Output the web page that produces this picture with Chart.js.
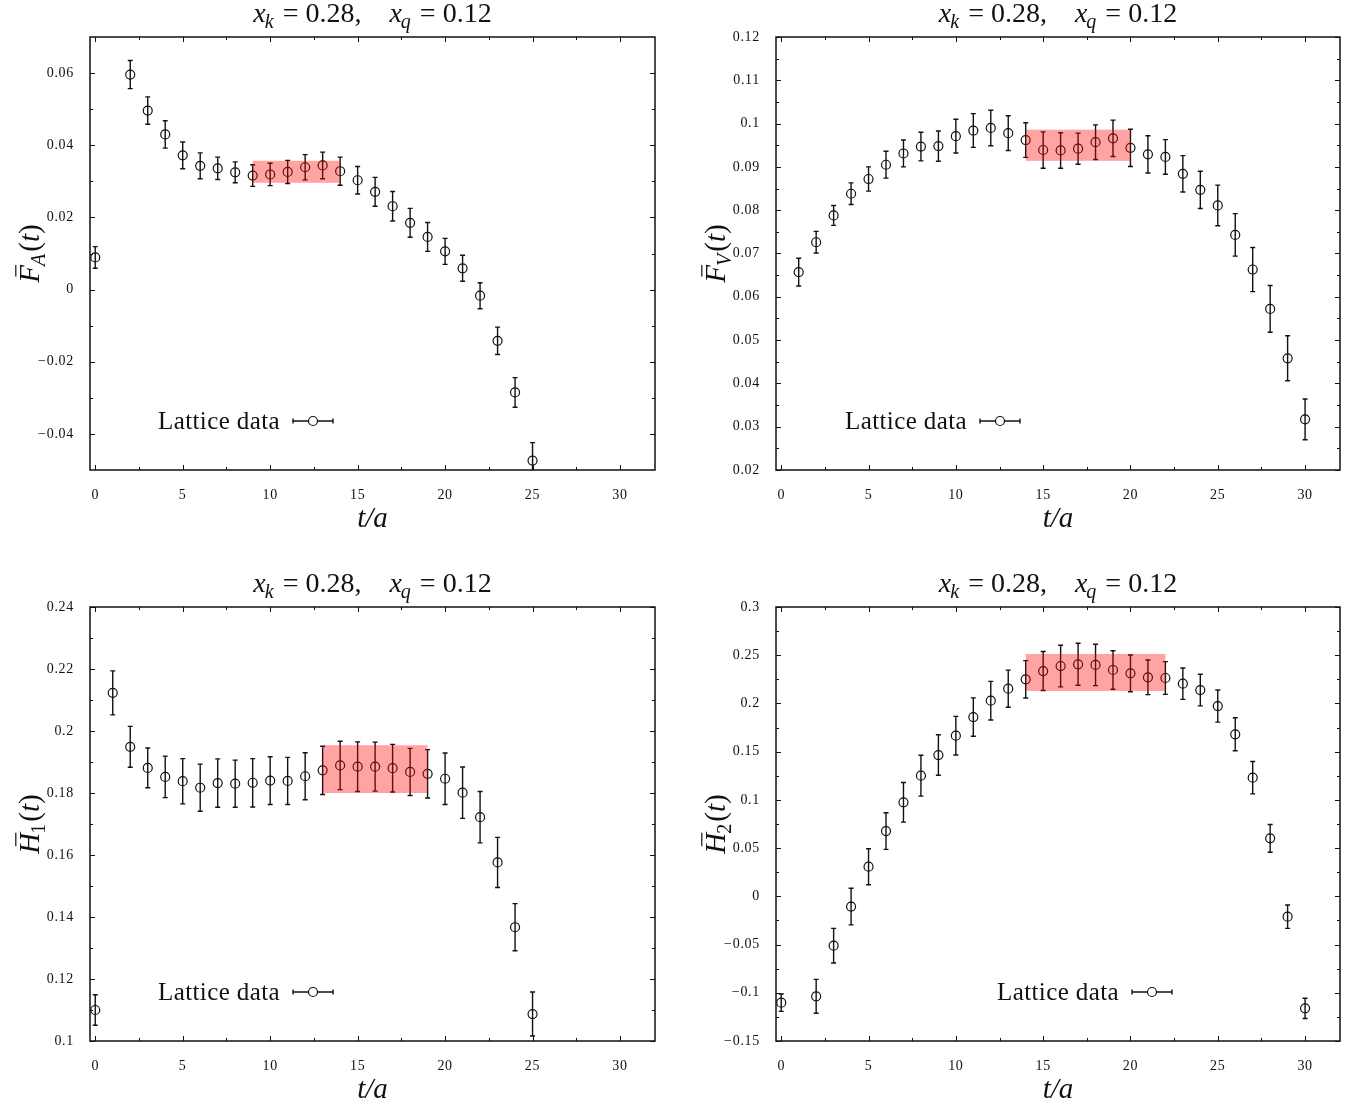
<!DOCTYPE html>
<html>
<head>
<meta charset="utf-8">
<script src="https://cdn.jsdelivr.net/npm/chart.js@4.4.1/dist/chart.umd.min.js"></script>
<style>
  html, body { margin: 0; padding: 0; background: #fff; overflow: hidden; }
  #wrap { position: relative; width: 1364px; height: 1110px; }
  .panel { position: absolute; width: 682px; height: 555px; }
  canvas { display: block; }
</style>
</head>
<body>
<div id="wrap">
  <div class="panel" style="left:0;top:0"><canvas id="cFA" width="682" height="555"></canvas></div>
  <div class="panel" style="left:682px;top:0"><canvas id="cFV" width="682" height="555"></canvas></div>
  <div class="panel" style="left:0;top:555px"><canvas id="cH1" width="682" height="555"></canvas></div>
  <div class="panel" style="left:682px;top:555px"><canvas id="cH2" width="682" height="555"></canvas></div>
</div>
<script>
// ---- data ----
const tFA = [0, 2, 3, 4, 5, 6, 7, 8, 9, 10, 11, 12, 13, 14, 15, 16, 17, 18, 19, 20, 21, 22, 23, 24, 25];
const fA = [0.0089, 0.0596, 0.0496, 0.0430, 0.0372, 0.0343, 0.0336, 0.0325, 0.0316, 0.0319, 0.0326, 0.0339, 0.0344,
            0.0328, 0.0303, 0.0271, 0.0231, 0.0185, 0.0146, 0.0106, 0.0059, -0.0017, -0.0142, -0.0285, -0.0474];
const fAErr = [0.0030, 0.0039, 0.0038, 0.0038, 0.0037, 0.0036, 0.0031, 0.0029, 0.0030, 0.0031, 0.0032, 0.0035, 0.0037,
               0.0039, 0.0038, 0.0040, 0.0041, 0.0040, 0.0040, 0.0036, 0.0036, 0.0036, 0.0038, 0.0041, 0.0050];
const bandFA_t = [9, 14];
const bandFA_y = [0.0296, 0.0357];
const yTicksFA = [-0.04, -0.02, 0, 0.02, 0.04, 0.06];

const tFV = [1, 2, 3, 4, 5, 6, 7, 8, 9, 10, 11, 12, 13, 14, 15, 16, 17, 18, 19, 20, 21, 22, 23, 24, 25, 26, 27, 28, 29, 30];
const fV = [0.0657, 0.0726, 0.0788, 0.0838, 0.0872, 0.0905, 0.0931, 0.0947, 0.0948, 0.0971, 0.0984, 0.0990, 0.0978, 0.0962, 0.0939,
            0.0938, 0.0942, 0.0957, 0.0966, 0.0944, 0.0929, 0.0923, 0.0884, 0.0847, 0.0811, 0.0743, 0.0663, 0.0572, 0.0458, 0.0317];
const fVErr = [0.0032, 0.0025, 0.0023, 0.0025, 0.0028, 0.0031, 0.0031, 0.0033, 0.0035, 0.0039, 0.0039, 0.0041, 0.0040, 0.0040, 0.0042,
               0.0041, 0.0036, 0.0040, 0.0042, 0.0043, 0.0043, 0.0040, 0.0042, 0.0043, 0.0047, 0.0049, 0.0051, 0.0054, 0.0052, 0.0047];
const bandFV_t = [14, 20];
const bandFV_y = [0.0914, 0.0986];
const yTicksFV = [0.02, 0.03, 0.04, 0.05, 0.06, 0.07, 0.08, 0.09, 0.1, 0.11, 0.12];

const tH1 = [0, 1, 2, 3, 4, 5, 6, 7, 8, 9, 10, 11, 12, 13, 14, 15, 16, 17, 18, 19, 20, 21, 22, 23, 24, 25];
const h1 = [0.1100, 0.2123, 0.1949, 0.1881, 0.1852, 0.1838, 0.1817, 0.1832, 0.1830, 0.1833, 0.1840, 0.1839, 0.1854,
            0.1873, 0.1889, 0.1885, 0.1885, 0.1880, 0.1868, 0.1862, 0.1846, 0.1801, 0.1722, 0.1576, 0.1367, 0.1087];
const h1Err = [0.0049, 0.0071, 0.0066, 0.0064, 0.0067, 0.0073, 0.0076, 0.0078, 0.0076, 0.0078, 0.0077, 0.0076, 0.0076,
               0.0078, 0.0078, 0.0080, 0.0079, 0.0077, 0.0076, 0.0078, 0.0083, 0.0083, 0.0083, 0.0081, 0.0076, 0.0071];
const bandH1_t = [13, 19];
const bandH1_y = [0.1800, 0.1954];
const yTicksH1 = [0.1, 0.12, 0.14, 0.16, 0.18, 0.2, 0.22, 0.24];

const tH2 = [0, 2, 3, 4, 5, 6, 7, 8, 9, 10, 11, 12, 13, 14, 15, 16, 17, 18, 19, 20, 21, 22, 23, 24, 25, 26, 27, 28, 29, 30];
const h2 = [-0.1103, -0.1037, -0.0512, -0.0106, 0.0307, 0.0677, 0.0975, 0.1251, 0.1465, 0.1666, 0.1859, 0.2029, 0.2153, 0.2250, 0.2336,
            0.2388, 0.2406, 0.2399, 0.2347, 0.2312, 0.2271, 0.2264, 0.2205, 0.2139, 0.1973, 0.1680, 0.1230, 0.0601, -0.0211, -0.1161];
const h2Err = [0.0090, 0.0176, 0.0180, 0.0190, 0.0187, 0.0190, 0.0206, 0.0212, 0.0210, 0.0200, 0.0199, 0.0200, 0.0192, 0.0194, 0.0202,
               0.0216, 0.0218, 0.0214, 0.0200, 0.0190, 0.0180, 0.0170, 0.0163, 0.0164, 0.0167, 0.0171, 0.0168, 0.0144, 0.0121, 0.0105];
const bandH2_t = [14, 22];
const bandH2_y = [0.2129, 0.2513];
const yTicksH2 = [-0.15, -0.1, -0.05, 0, 0.05, 0.1, 0.15, 0.2, 0.25, 0.3];

const xTickLabels = [0, 5, 10, 15, 20, 25, 30];
const titleText = { xk: '0.28', xq: '0.12' };
const legendText = 'Lattice data';

const SERIF = '"Liberation Serif", "DejaVu Serif", serif';
const INK = '#111';

// small "math" writer: parts are [text, style]
// style: r roman, i italic, bi italic with bar, si italic subscript, sr roman subscript, sp blank space (em)
function fontFor(st, size) {
  const sub = st === 'si' || st === 'sr';
  const it = st === 'i' || st === 'bi' || st === 'si';
  return (it ? 'italic ' : '') + (sub ? Math.round(size * 0.7) : size) + 'px ' + SERIF;
}
function mathWidth(ctx, parts, size) {
  let w = 0;
  parts.forEach(([txt, st]) => {
    if (st === 'sp') { w += txt * size; return; }
    ctx.font = fontFor(st, size);
    w += ctx.measureText(txt).width + (st === 'si' || st === 'sr' ? 1 : 0);
  });
  return w;
}
function drawMath(ctx, parts, cx, baseY, size) {
  let x = cx - mathWidth(ctx, parts, size) / 2;
  ctx.fillStyle = INK;
  ctx.textAlign = 'left';
  ctx.textBaseline = 'alphabetic';
  parts.forEach(([txt, st]) => {
    if (st === 'sp') { x += txt * size; return; }
    ctx.font = fontFor(st, size);
    const w = ctx.measureText(txt).width;
    if (st === 'si' || st === 'sr') {
      ctx.fillText(txt, x - 1, baseY + size * 0.22);
      x += w + 1;
      return;
    }
    ctx.fillText(txt, x, baseY);
    if (st === 'bi') {
      ctx.strokeStyle = INK;
      ctx.lineWidth = 1.2;
      ctx.beginPath();
      ctx.moveTo(x + w * 0.35, baseY - size * 0.8);
      ctx.lineTo(x + w * 1.0, baseY - size * 0.8);
      ctx.stroke();
    }
    x += w;
  });
}

function fmt(v) {
  const s = String(parseFloat(v.toFixed(4)));
  return s.replace('-', '\u2212');
}

function makePanel(spec) {
  const plugin = {
    id: 'panelDeco',
    beforeDraw(chart) {
      chart.ctx.letterSpacing = '0.7px';
    },
    beforeDatasetsDraw(chart) {
      const ctx = chart.ctx, xs = chart.scales.x, ys = chart.scales.y, a = chart.chartArea;
      ctx.letterSpacing = '0px';
      ctx.save();
      ctx.beginPath();
      ctx.rect(a.left, a.top, a.right - a.left, a.bottom - a.top);
      ctx.clip();
      ctx.strokeStyle = INK;
      ctx.lineWidth = 1.4;
      spec.t.forEach((t, i) => {
        const px = xs.getPixelForValue(t);
        const y1 = ys.getPixelForValue(spec.v[i] - spec.e[i]);
        const y2 = ys.getPixelForValue(spec.v[i] + spec.e[i]);
        ctx.beginPath();
        ctx.moveTo(px, y1); ctx.lineTo(px, y2);
        ctx.moveTo(px - 2.5, y1); ctx.lineTo(px + 2.5, y1);
        ctx.moveTo(px - 2.5, y2); ctx.lineTo(px + 2.5, y2);
        ctx.stroke();
      });
      ctx.restore();
    },
    afterDatasetsDraw(chart) {
      const ctx = chart.ctx, xs = chart.scales.x, ys = chart.scales.y, a = chart.chartArea;
      ctx.save();
      // fit band
      const bx1 = xs.getPixelForValue(spec.bandT[0]), bx2 = xs.getPixelForValue(spec.bandT[1]);
      const by1 = ys.getPixelForValue(spec.bandY[1]), by2 = ys.getPixelForValue(spec.bandY[0]);
      ctx.fillStyle = 'rgba(255, 0, 0, 0.36)';
      ctx.fillRect(bx1, by1, bx2 - bx1, by2 - by1);

      // frame
      ctx.strokeStyle = INK;
      ctx.lineWidth = 1.5;
      ctx.strokeRect(a.left, a.top, a.right - a.left, a.bottom - a.top);

      // inward ticks on all four sides
      ctx.lineWidth = 1;
      const ticksOf = (scale) => {
        const maj = scale.ticks.map(t => t.value);
        const step = maj[1] - maj[0];
        const minor = [];
        for (let v = maj[0] - step / 2; v < scale.max; v += step) {
          if (v > scale.min + step * 0.05 && v < scale.max - step * 0.05) minor.push(v);
        }
        return { maj, minor };
      };
      const tx = ticksOf(xs), ty = ticksOf(ys);
      ctx.beginPath();
      [[tx.maj, 5], [tx.minor, 3]].forEach(([vals, len]) => vals.forEach(v => {
        const p = Math.round(xs.getPixelForValue(v)) + 0.5;
        ctx.moveTo(p, a.bottom); ctx.lineTo(p, a.bottom - len);
        ctx.moveTo(p, a.top); ctx.lineTo(p, a.top + len);
      }));
      [[ty.maj, 5], [ty.minor, 3]].forEach(([vals, len]) => vals.forEach(v => {
        const p = Math.round(ys.getPixelForValue(v)) + 0.5;
        ctx.moveTo(a.left, p); ctx.lineTo(a.left + len, p);
        ctx.moveTo(a.right, p); ctx.lineTo(a.right - len, p);
      }));
      ctx.stroke();

      // legend: text + horizontal error-bar symbol
      const lx = a.left + spec.legendDx, ly = a.bottom - 49;
      ctx.fillStyle = INK;
      ctx.font = '25px ' + SERIF;
      ctx.textAlign = 'left';
      ctx.textBaseline = 'middle';
      ctx.letterSpacing = '0.4px';
      ctx.fillText(legendText, lx, ly + 1);
      ctx.letterSpacing = '0px';
      const s1 = lx + 135, s2 = lx + 175, sc = (s1 + s2) / 2;
      ctx.lineWidth = 1.4;
      ctx.beginPath();
      ctx.moveTo(s1, ly); ctx.lineTo(sc - 4.5, ly);
      ctx.moveTo(sc + 4.5, ly); ctx.lineTo(s2, ly);
      ctx.moveTo(s1, ly - 2.5); ctx.lineTo(s1, ly + 2.5);
      ctx.moveTo(s2, ly - 2.5); ctx.lineTo(s2, ly + 2.5);
      ctx.stroke();
      ctx.lineWidth = 1.2;
      ctx.beginPath();
      ctx.arc(sc, ly, 4.5, 0, Math.PI * 2);
      ctx.stroke();
      ctx.restore();
    },
    afterDraw(chart) {
      const ctx = chart.ctx, a = chart.chartArea;
      const cx = (a.left + a.right) / 2;
      ctx.save();
      ctx.letterSpacing = '0px';
      // title
      drawMath(ctx, [['x', 'i'], ['k', 'si'], [' = ' + titleText.xk + ',', 'r'], [1, 'sp'],
                     ['x', 'i'], ['q', 'si'], [' = ' + titleText.xq, 'r']], cx, a.top - 15, 28);
      // x label
      drawMath(ctx, [['t/a', 'i']], cx, a.bottom + 57, 29);
      // y label (rotated)
      ctx.translate(a.left - 60, (a.top + a.bottom) / 2);
      ctx.rotate(-Math.PI / 2);
      drawMath(ctx, spec.ylabel, 0, 9, 29);
      ctx.restore();
    }
  };

  return new Chart(document.getElementById(spec.id), {
    type: 'scatter',
    data: {
      datasets: [{
        data: spec.t.map((t, i) => ({ x: t, y: spec.v[i] })),
        pointStyle: 'circle',
        pointRadius: 4.5,
        pointHoverRadius: 4.5,
        pointBorderWidth: 1.2,
        pointBorderColor: INK,
        pointBackgroundColor: 'rgba(0,0,0,0)',
        showLine: false
      }]
    },
    options: {
      responsive: false,
      animation: false,
      events: [],
      layout: { padding: { left: 0, right: spec.padRight, top: spec.padTop, bottom: 0 } },
      plugins: { legend: { display: false }, tooltip: { enabled: false } },
      scales: {
        x: {
          type: 'linear', min: -0.3, max: 32,
          grid: { display: false }, border: { display: false },
          afterBuildTicks: s => { s.ticks = xTickLabels.map(v => ({ value: v })); },
          ticks: { color: INK, font: { family: SERIF, size: 14 }, padding: 9, maxRotation: 0,
                   callback: v => String(v) },
          afterFit: s => { s.height = spec.xHeight; }
        },
        y: {
          type: 'linear', min: spec.yMin, max: spec.yMax,
          grid: { display: false }, border: { display: false },
          afterBuildTicks: s => { s.ticks = spec.yTicks.map(v => ({ value: v })); },
          ticks: { color: INK, font: { family: SERIF, size: 14 }, padding: 8, callback: v => fmt(v) },
          afterFit: s => { s.width = spec.yWidth; }
        }
      }
    },
    plugins: [plugin]
  });
}

makePanel({ id: 'cFA', t: tFA, v: fA, e: fAErr, bandT: bandFA_t, bandY: bandFA_y, yTicks: yTicksFA,
  yMin: -0.05, yMax: 0.07, yWidth: 90, padRight: 27, padTop: 37, xHeight: 85, legendDx: 68,
  ylabel: [['F', 'bi'], ['A', 'si'], ['(', 'r'], ['t', 'i'], [')', 'r']] });
makePanel({ id: 'cFV', t: tFV, v: fV, e: fVErr, bandT: bandFV_t, bandY: bandFV_y, yTicks: yTicksFV,
  yMin: 0.02, yMax: 0.12, yWidth: 94, padRight: 24, padTop: 37, xHeight: 85, legendDx: 69,
  ylabel: [['F', 'bi'], ['V', 'si'], ['(', 'r'], ['t', 'i'], [')', 'r']] });
makePanel({ id: 'cH1', t: tH1, v: h1, e: h1Err, bandT: bandH1_t, bandY: bandH1_y, yTicks: yTicksH1,
  yMin: 0.1, yMax: 0.24, yWidth: 90, padRight: 27, padTop: 52, xHeight: 69, legendDx: 68,
  ylabel: [['H', 'bi'], ['1', 'sr'], ['(', 'r'], ['t', 'i'], [')', 'r']] });
makePanel({ id: 'cH2', t: tH2, v: h2, e: h2Err, bandT: bandH2_t, bandY: bandH2_y, yTicks: yTicksH2,
  yMin: -0.15, yMax: 0.3, yWidth: 94, padRight: 24, padTop: 52, xHeight: 69, legendDx: 221,
  ylabel: [['H', 'bi'], ['2', 'sr'], ['(', 'r'], ['t', 'i'], [')', 'r']] });
</script>
</body>
</html>
